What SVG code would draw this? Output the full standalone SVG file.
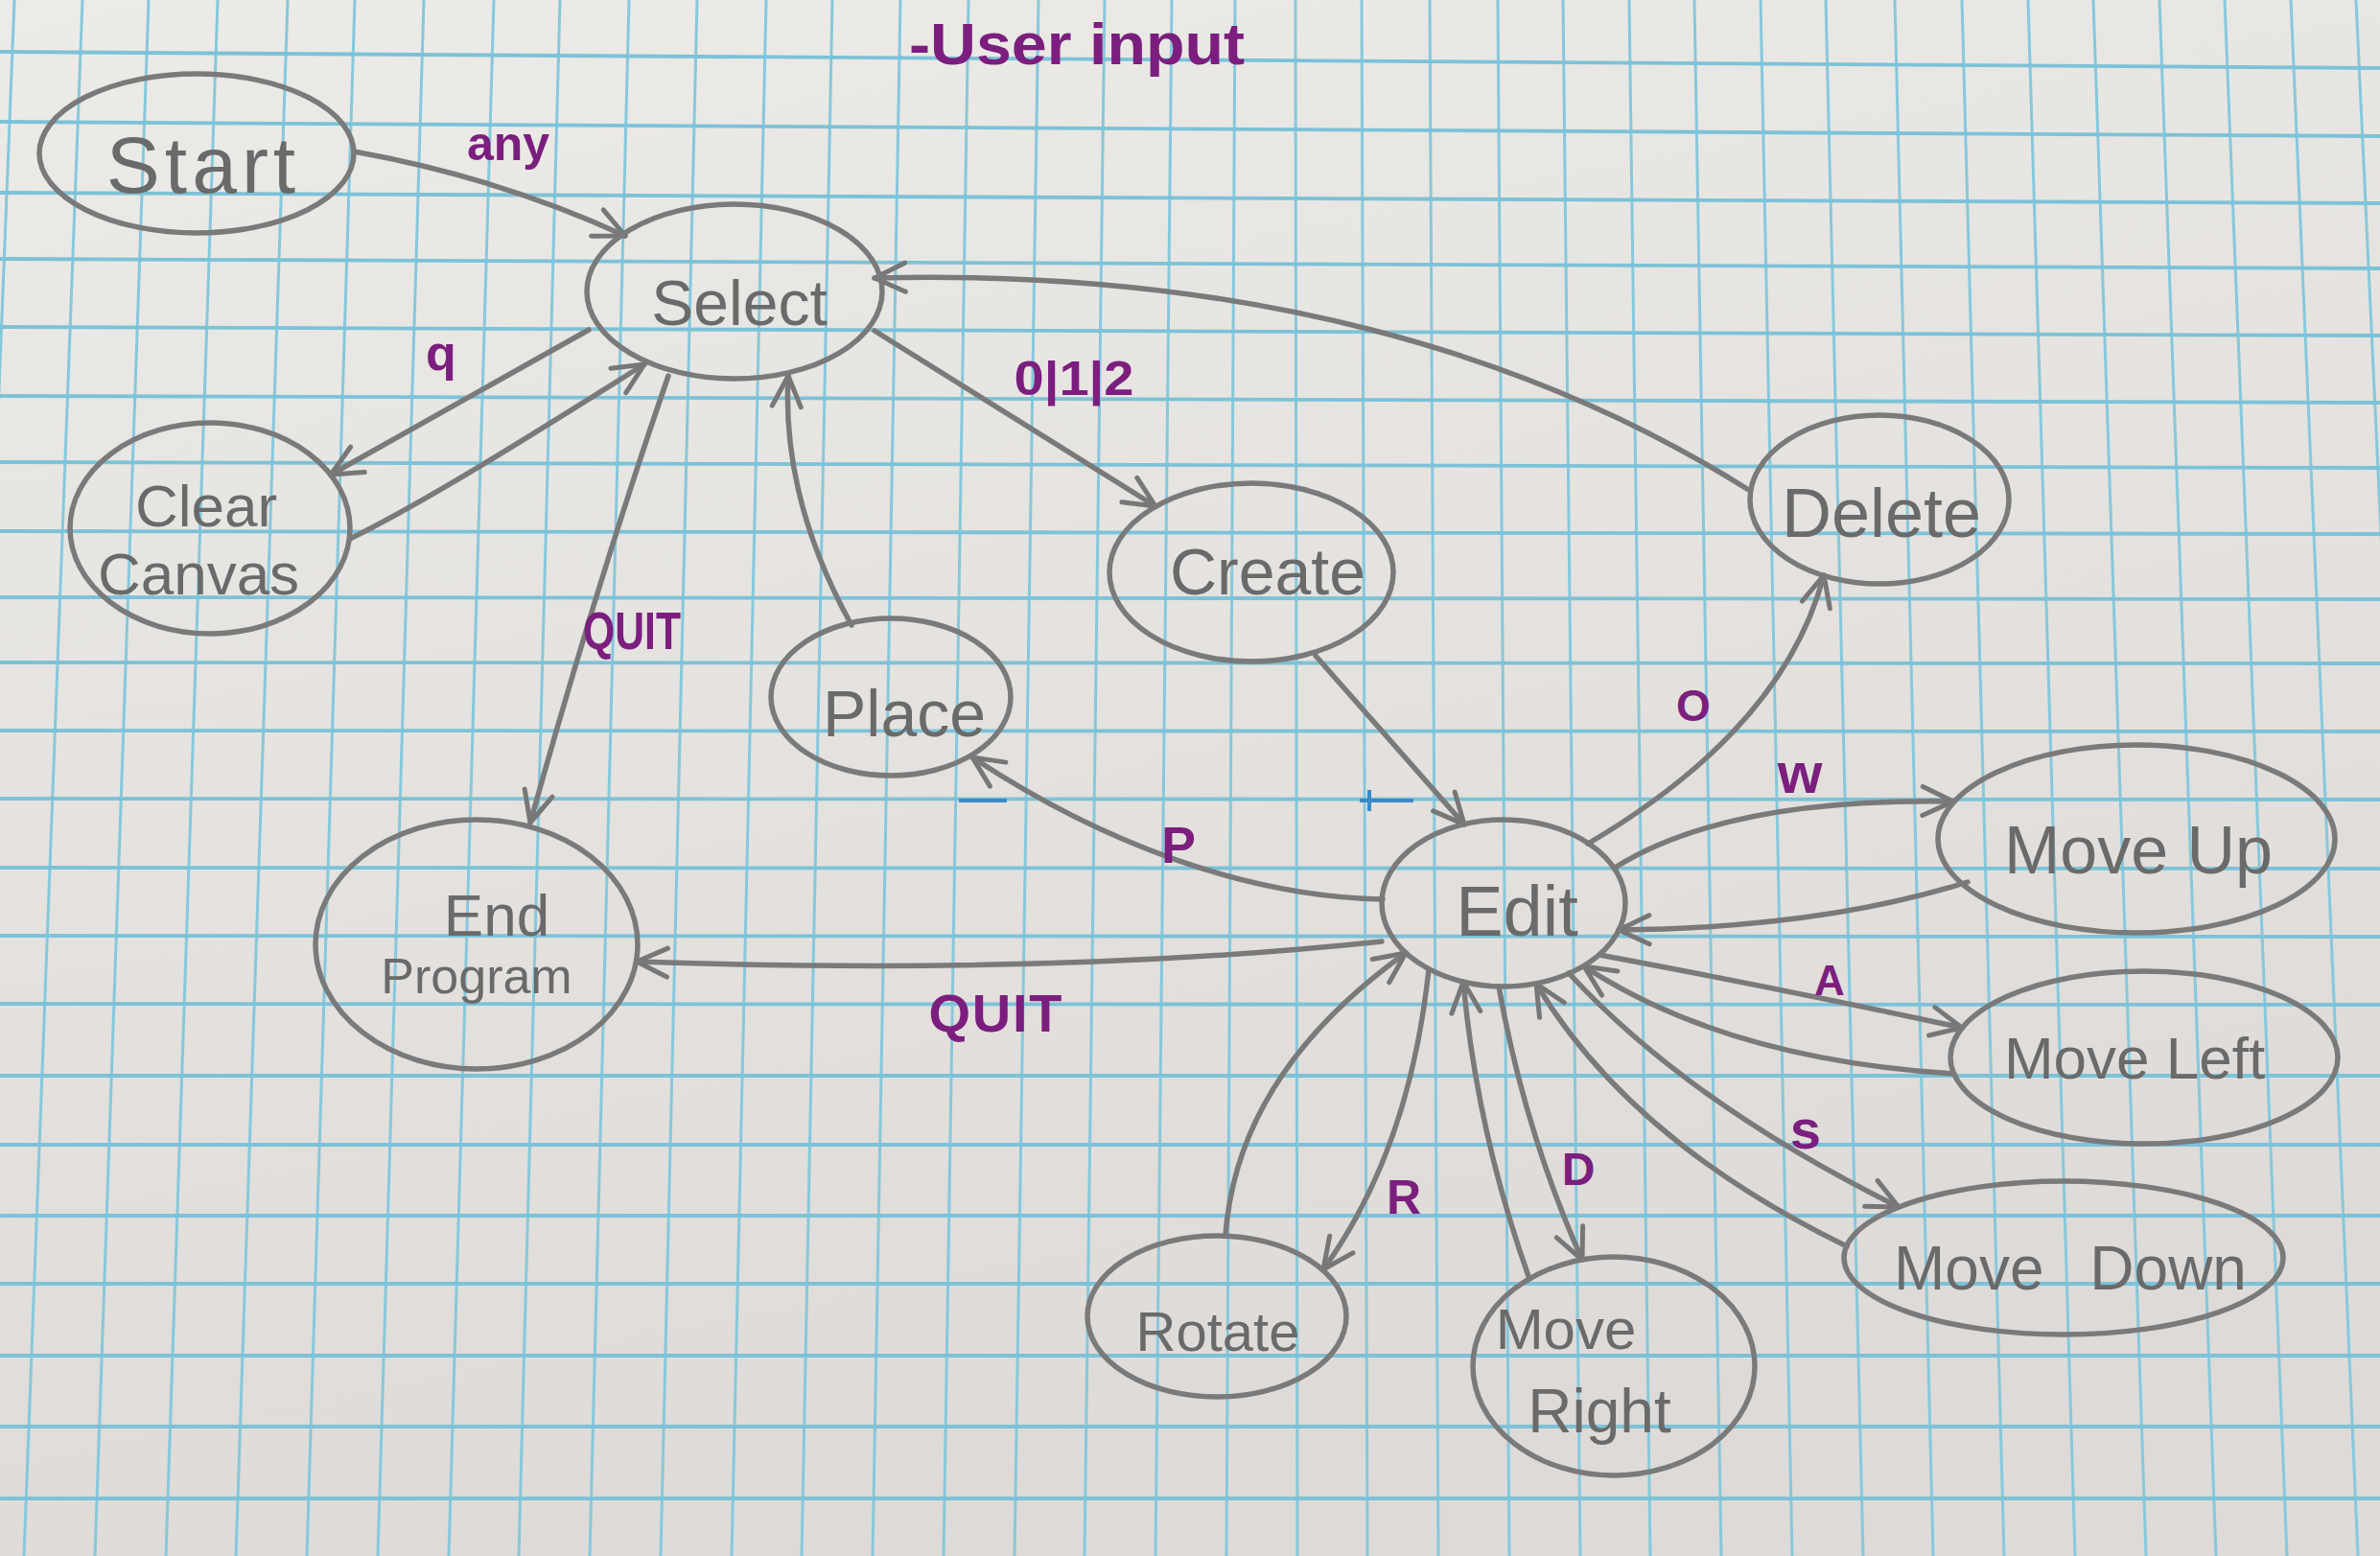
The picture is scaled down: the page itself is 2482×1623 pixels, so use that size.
<svg xmlns="http://www.w3.org/2000/svg" width="2482" height="1623" viewBox="0 0 2482 1623">
<defs>
<linearGradient id="paper" x1="0" y1="0" x2="0.3" y2="1">
<stop offset="0" stop-color="#ecebe7"/>
<stop offset="1" stop-color="#dedad7"/>
</linearGradient>
<marker id="ah" viewBox="-40 -20 44 40" refX="0" refY="0" markerWidth="44" markerHeight="40" markerUnits="userSpaceOnUse" orient="auto">
<path d="M-32,-15 L0,0 L-32,15" fill="none" stroke="#777777" stroke-width="5" stroke-linecap="round" stroke-linejoin="round"/>
</marker>
</defs>
<style>
.node { fill: none; stroke: #7a7a7a; stroke-width: 5.5; }
.edge { fill: none; stroke: #7a7a7a; stroke-width: 5.5; stroke-linecap: round; marker-end: url(#ah); }
.nt { font-family: "Liberation Sans", Arial, sans-serif; fill: #6a6a6a; text-anchor: middle; }
.lb { font-family: "Liberation Sans", Arial, sans-serif; fill: #7b1e7e; font-weight: bold; text-anchor: middle; }
.gv { fill: none; stroke: #86c8dc; stroke-width: 3; }
.gh { fill: none; stroke: #7cc2d8; stroke-width: 3.8; }
</style>

<rect x="0" y="0" width="2482" height="1623" fill="url(#paper)"/>

<g id="grid">
<path class="gv" d="M15,0 L-49,1623 M86,0 L25,1623 M155,0 L99,1623 M227,0 L173,1623 M300,0 L246,1623 M370,0 L320,1623 M442,0 L394,1623 M515,0 L468,1623 M584,0 L541,1623 M656,0 L615,1623 M727,0 L689,1623 M799,0 L763,1623 M868,0 L836,1623 M939,0 L910,1623 M1010,0 L984,1623 M1083,0 L1058,1623 M1152,0 L1131,1623 M1222,0 L1205,1623 M1288,0 L1279,1623 M1351,0 L1353,1623 M1420,0 L1426,1623 M1491,0 L1500,1623 M1562,0 L1574,1623 M1630,0 L1648,1623 M1699,0 L1721,1623 M1767,0 L1795,1623 M1836,0 L1869,1623 M1904,0 L1943,1623 M1976,0 L2016,1623 M2046,0 L2090,1623 M2115,0 L2164,1623 M2183,0 L2238,1623 M2252,0 L2311,1623 M2320,0 L2385,1623 M2389,0 L2459,1623 M2457,0 L2533,1623"/>
<path class="gh" d="M0,54 L2482,71 M0,127 L2482,142 M0,201 L2482,212 M0,270 L2482,280 M0,341 L2482,350 M0,413 L2482,420 M0,482 L2482,488 M0,554 L2482,557 M0,623 L2482,625 M0,691 L2482,692 M0,762 L2482,763 M0,833 L2482,834 M0,905 L2482,906 M0,976 L2482,977 M0,1047 L2482,1048 M0,1122 L2482,1122 M0,1194 L2482,1194 M0,1268 L2482,1268 M0,1339 L2482,1339 M0,1414 L2482,1414 M0,1488 L2482,1488 M0,1563 L2482,1563"/>
<path d="M1000,835 L1050,835 M1418,835 L1474,835 M1428,824 L1428,846" fill="none" stroke="#3a88c6" stroke-width="4"/>
</g>

<text id="title" class="lb" x="1123" y="67" font-size="62" textLength="350" lengthAdjust="spacingAndGlyphs">-User input</text>

<g id="connectors">
<path class="edge" d="M369,158 Q520,185 652,246"/>
<path class="edge" d="M614,344 L345,495"/>
<path class="edge" d="M365,562 C450,520 560,450 672,380"/>
<path class="edge" d="M697,392 Q625,600 553,858"/>
<path class="edge" d="M888,652 Q815,520 822,392"/>
<path class="edge" d="M1822,510 C1600,370 1300,280 912,290"/>
<path class="edge" d="M912,345 L1205,528"/>
<path class="edge" d="M1372,684 L1527,860"/>
<path class="edge" d="M1442,938 C1300,935 1150,880 1014,790"/>
<path class="edge" d="M1441,982 Q1100,1018 664,1003"/>
<path class="edge" d="M1656,880 Q1860,760 1902,600"/>
<path class="edge" d="M1684,905 Q1800,832 2037,836"/>
<path class="edge" d="M2052,920 Q1900,968 1688,970"/>
<path class="edge" d="M1668,996 Q1850,1030 2046,1072"/>
<path class="edge" d="M2038,1120 Q1800,1105 1652,1008"/>
<path class="edge" d="M1636,1015 Q1760,1150 1980,1259"/>
<path class="edge" d="M1926,1300 Q1700,1190 1602,1026"/>
<path class="edge" d="M1563,1029 Q1590,1180 1650,1314"/>
<path class="edge" d="M1595,1334 Q1540,1180 1526,1024"/>
<path class="edge" d="M1490,1011 Q1470,1200 1380,1324"/>
<path class="edge" d="M1278,1289 Q1290,1120 1466,994"/>
<text class="lb" x="530" y="167" font-size="50">any</text>
<text class="lb" x="460" y="386" font-size="52">q</text>
<text class="lb" x="1120" y="412" font-size="50" textLength="125" lengthAdjust="spacingAndGlyphs">0|1|2</text>
<text class="lb" x="659" y="677" font-size="56" textLength="102" lengthAdjust="spacingAndGlyphs">QUIT</text>
<text class="lb" x="1038" y="1076" font-size="56" textLength="139" lengthAdjust="spacing">QUIT</text>
<text class="lb" x="1229" y="900" font-size="54">P</text>
<text class="lb" x="1766" y="752" font-size="46">O</text>
<text class="lb" x="1877" y="827" font-size="60">w</text>
<text class="lb" x="1908" y="1038" font-size="44">A</text>
<text class="lb" x="1883" y="1198" font-size="58">s</text>
<text class="lb" x="1646" y="1236" font-size="48">D</text>
<text class="lb" x="1464" y="1266" font-size="50">R</text>
</g>

<g id="node-start">
<ellipse class="node" cx="205" cy="160" rx="164" ry="83"/>
<text class="nt" x="212" y="201" font-size="84" letter-spacing="5">Start</text>
</g>
<g id="node-select">
<ellipse class="node" cx="766" cy="304" rx="154" ry="91"/>
<text class="nt" x="771" y="339" font-size="66" fill="#7c7c7c">Select</text>
</g>
<g id="node-clear-canvas">
<ellipse class="node" cx="219" cy="551" rx="146" ry="110"/>
<text class="nt" x="215" y="549" font-size="62">Clear</text>
<text class="nt" x="207" y="620" font-size="62">Canvas</text>
</g>
<g id="node-create">
<ellipse class="node" cx="1305" cy="597" rx="148" ry="93"/>
<text class="nt" x="1322" y="620" font-size="68">Create</text>
</g>
<g id="node-delete">
<ellipse class="node" cx="1960" cy="521" rx="135" ry="88"/>
<text class="nt" x="1962" y="560" font-size="72">Delete</text>
</g>
<g id="node-place">
<ellipse class="node" cx="929" cy="727" rx="125" ry="82"/>
<text class="nt" x="943" y="768" font-size="68">Place</text>
</g>
<g id="node-end-program">
<ellipse class="node" cx="497" cy="985" rx="168" ry="130"/>
<text class="nt" x="518" y="976" font-size="62">End</text>
<text class="nt" x="497" y="1036" font-size="52">Program</text>
</g>
<g id="node-edit">
<ellipse class="node" cx="1568" cy="942" rx="127" ry="87"/>
<text class="nt" x="1582" y="976" font-size="74">Edit</text>
</g>
<g id="node-move-up">
<ellipse class="node" cx="2228" cy="875" rx="207" ry="98"/>
<text class="nt" x="2230" y="911" font-size="70">Move Up</text>
</g>
<g id="node-move-left">
<ellipse class="node" cx="2236" cy="1103" rx="202" ry="90"/>
<text class="nt" x="2226" y="1125" font-size="62">Move Left</text>
</g>
<g id="node-move-down">
<ellipse class="node" cx="2152" cy="1312" rx="229" ry="80"/>
<text class="nt" x="2159" y="1345" font-size="64" word-spacing="30">Move Down</text>
</g>
<g id="node-move-right">
<ellipse class="node" cx="1683" cy="1425" rx="147" ry="114"/>
<text class="nt" x="1633" y="1407" font-size="60">Move</text>
<text class="nt" x="1668" y="1494" font-size="64">Right</text>
</g>
<g id="node-rotate">
<ellipse class="node" cx="1269" cy="1373" rx="135" ry="84"/>
<text class="nt" x="1270" y="1409" font-size="58">Rotate</text>
</g>
</svg>
